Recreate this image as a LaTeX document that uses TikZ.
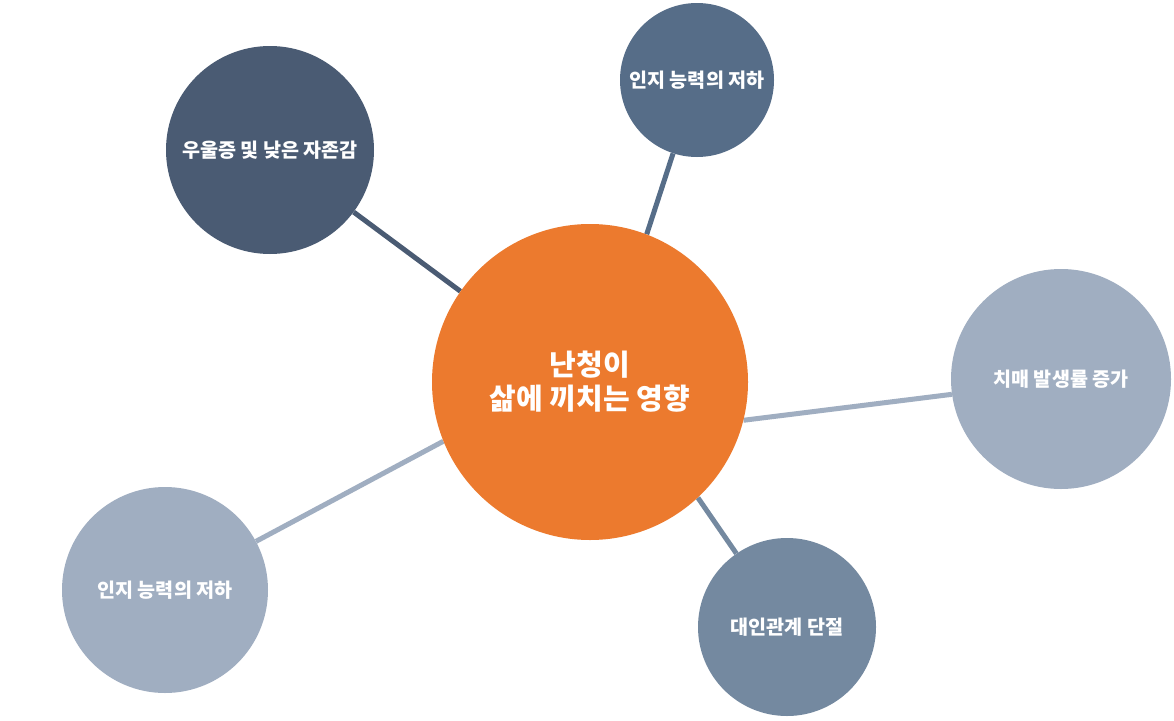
\documentclass[tikz,border=0pt]{standalone}
\usepackage{fontspec}
\setmainfont{Noto Sans CJK KR}
\usetikzlibrary{backgrounds}
\begin{document}
\begin{tikzpicture}[x=1pt,y=-1pt,
  bubble/.style={circle,inner sep=0pt,text=white,align=center,font=\bfseries\fontsize{19.6}{24}\selectfont},
  link/.style={line width=5pt}]
\definecolor{corange}{HTML}{EC7A2E}
\definecolor{cdark}{HTML}{4A5B73}
\definecolor{cblue}{HTML}{566D88}
\definecolor{clight}{HTML}{A0AEC1}
\definecolor{cmid}{HTML}{7489A0}
\node[bubble,fill=corange,minimum size=316pt,font=\bfseries\fontsize{29}{34}\selectfont] (ctr) at (590,382) {난청이\\삶에 끼치는 영향};
\node[bubble,fill=cdark,minimum size=208pt] (tl) at (270,150) {우울증 및 낮은 자존감};
\node[bubble,fill=cblue,minimum size=154pt] (t) at (697,80) {인지 능력의 저하};
\node[bubble,fill=clight,minimum size=220pt] (r) at (1061,379) {치매 발생률 증가};
\node[bubble,fill=clight,minimum size=206pt] (bl) at (165,590) {인지 능력의 저하};
\node[bubble,fill=cmid,minimum size=178pt] (b) at (787,627) {대인관계 단절};
\begin{scope}[on background layer]
\fill[white] (0,0) rectangle (1174,720);
\draw[link,cdark] (ctr.145) -- (tl);
\draw[link,cblue] (ctr.69) -- (t);
\draw[link,clight] (ctr.-14) -- (r.188);
\draw[link,clight] (ctr.202) -- (bl);
\draw[link,cmid] (ctr.-47) -- (b);
\end{scope}
\useasboundingbox (0,0) rectangle (1174,720);
\end{tikzpicture}
\end{document}
